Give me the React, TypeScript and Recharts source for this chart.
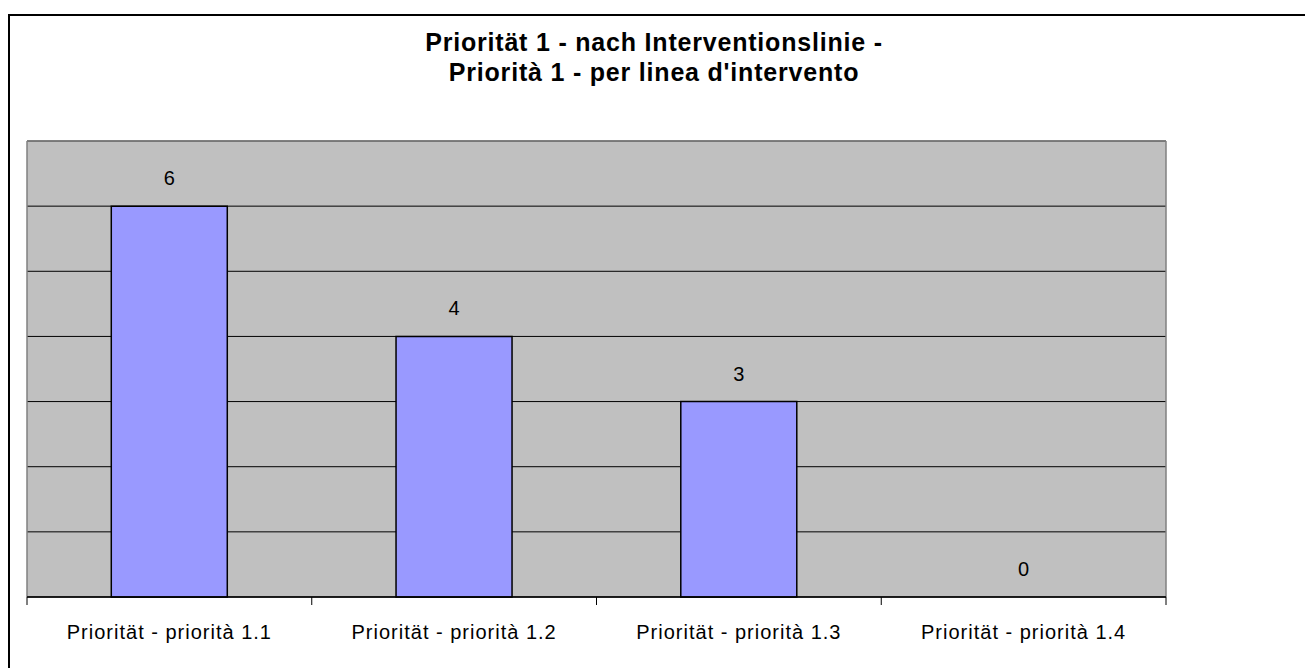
import React from "react";
import {
  ComposedChart,
  Bar,
  Line,
  XAxis,
  YAxis,
  CartesianGrid,
  LabelList,
} from "recharts";

// chart data
const categories = [
  "Priorität - priorità 1.1",
  "Priorität - priorità 1.2",
  "Priorität - priorità 1.3",
  "Priorität - priorità 1.4",
];
const values = [6, 4, 3, 0];
const yTicks = [0, 1, 2, 3, 4, 5, 6, 7];
const titleLines = [
  "Priorität 1 - nach Interventionslinie -",
  "Priorità 1 - per linea d'intervento",
];

const W = 1305;
const H = 668;
const MARGIN = { top: 141, right: 139, left: 27, bottom: 31 };
const X_AXIS_H = 40;
const PLOT_W = W - MARGIN.left - MARGIN.right;
const FONT = "Arial, 'Liberation Sans', sans-serif";

const chartData = categories.map((name, i) => ({ name, value: values[i] }));

const CategoryTick = (props: any) => {
  const { x, y, payload, index } = props;
  const band = PLOT_W / categories.length;
  const last = index === categories.length - 1;
  return (
    <g>
      <line x1={x - band / 2} y1={y} x2={x - band / 2} y2={y + 8} stroke="#000" />
      {last && (
        <line x1={x + band / 2} y1={y} x2={x + band / 2} y2={y + 8} stroke="#000" />
      )}
      <text
        x={x}
        y={y + 42}
        textAnchor="middle"
        fontFamily={FONT}
        fontSize={20}
        letterSpacing={1}
        fill="#000"
      >
        {payload.value}
      </text>
    </g>
  );
};

export default function App() {
  return (
    <div
      style={{
        position: "absolute",
        left: 0,
        top: 0,
        width: W,
        height: H,
        overflow: "hidden",
        background: "#fff",
      }}
    >
      <div
        style={{
          position: "absolute",
          left: 8,
          top: 14,
          width: W + 20,
          height: H + 20,
          border: "2px solid #000",
        }}
      />
      <div
        style={{
          position: "absolute",
          left: 0,
          top: 27,
          width: 1308,
          textAlign: "center",
          fontFamily: FONT,
          fontWeight: "bold",
          fontSize: 25,
          lineHeight: "30px",
          letterSpacing: 0.8,
          color: "#000",
        }}
      >
        {titleLines.map((t) => (
          <div key={t}>{t}</div>
        ))}
      </div>
      <div style={{ position: "absolute", left: 0, top: 0 }}>
        <ComposedChart
          width={W}
          height={H}
          data={chartData}
          margin={MARGIN}
          barCategoryGap="29.6%"
        >
          <CartesianGrid vertical={false} stroke="#000" fill="#C0C0C0" />
          <CartesianGrid
            stroke="#808080"
            strokeWidth={1.5}
            horizontalCoordinatesGenerator={({ offset }: any) => [offset.top]}
            verticalCoordinatesGenerator={({ offset }: any) => [
              offset.left,
              offset.left + offset.width,
            ]}
          />
          <XAxis
            dataKey="name"
            height={X_AXIS_H}
            axisLine={{ stroke: "#000", strokeWidth: 1.5 }}
            tickLine={false}
            tickSize={0}
            tickMargin={0}
            interval={0}
            tick={<CategoryTick />}
          />
          <YAxis hide domain={[0, 7]} ticks={yTicks} />
          <Bar
            dataKey="value"
            fill="#9999FF"
            stroke="#000"
            strokeWidth={1.5}
            isAnimationActive={false}
          />
          {/* invisible line that only carries the value labels (also for 0) */}
          <Line
            dataKey="value"
            stroke="none"
            dot={false}
            activeDot={false}
            isAnimationActive={false}
          >
            <LabelList
              dataKey="value"
              position="top"
              offset={21}
              fill="#000"
              fontSize={20}
              fontFamily={FONT}
            />
          </Line>
        </ComposedChart>
      </div>
    </div>
  );
}
